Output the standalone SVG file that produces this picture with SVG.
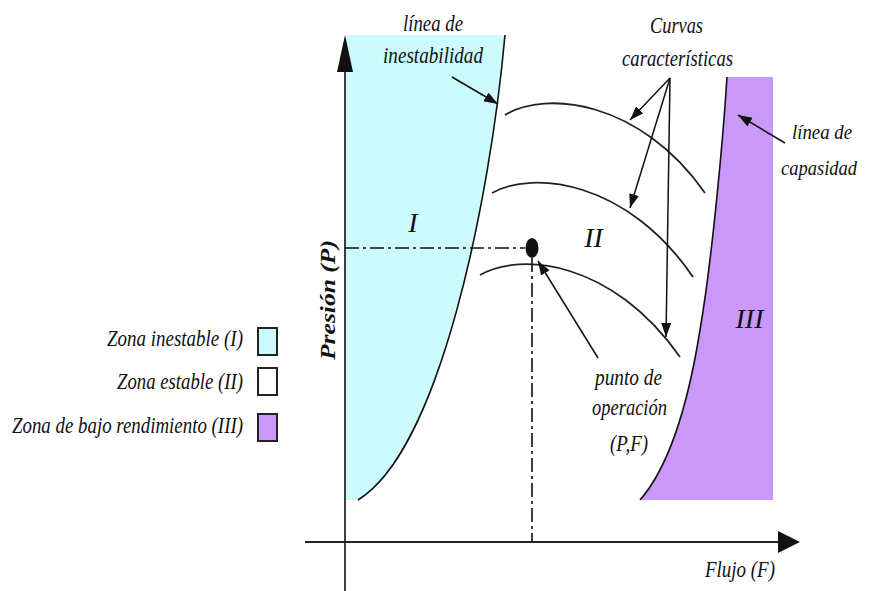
<svg xmlns="http://www.w3.org/2000/svg" width="869" height="591" viewBox="0 0 869 591">
<style>
text{font-family:"Liberation Serif","Times New Roman",serif;font-style:italic;fill:#111;}
.lbl{font-size:23px;text-anchor:middle;}
.leg{font-size:23px;text-anchor:end;}
.zone{font-size:28px;text-anchor:middle;}
.edge{fill:none;stroke:#111;stroke-width:1.6;}
.arc{fill:none;stroke:#222;stroke-width:1.8;}
.ptr{fill:none;stroke:#111;stroke-width:1.5;marker-end:url(#ah);}
.dd{fill:none;stroke:#111;stroke-width:1.6;stroke-dasharray:14 4 3 4;}
.box{stroke:#222;stroke-width:2;}
</style>
<defs>
<marker id="ah" markerUnits="userSpaceOnUse" markerWidth="16" markerHeight="12" refX="14" refY="5" orient="auto">
<path d="M0,0 L14,5 L0,10 z" fill="#111"/>
</marker>
</defs>
<rect width="869" height="591" fill="#fff"/>

<g id="zone-I">
<path d="M345,35 L505,35 C490,200 440,450 358,500 L345,500 z" fill="#cbfbfc"/>
<path class="edge" d="M505,35 C490,200 440,450 358,500"/>
<text class="zone" x="413" y="232">I</text>
</g>

<g id="zone-III">
<path d="M727,77 L773,77 L773,500 L640,500 C675,460 692,380 700,330 C712,260 723,140 727,77 z" fill="#c998f8"/>
<path class="edge" d="M727,77 C723,140 712,260 700,330 C692,380 675,460 640,500"/>
<text class="zone" x="749.5" y="328">III</text>
</g>

<g id="zone-II">
<text class="zone" x="593.5" y="247">II</text>
</g>

<g id="curves">
<path class="arc" d="M505,115 C545,90 640,100 705,193"/>
<path class="arc" d="M492,193 C532,170 627,180 693,277"/>
<path class="arc" d="M480,275 C520,252 612,260 680,357"/>
</g>

<g id="axes">
<line x1="345" y1="70" x2="345" y2="591" stroke="#111" stroke-width="1.6"/>
<path d="M345,35 L353,72 L337,72 z" fill="#111"/>
<line x1="305" y1="542" x2="780" y2="542" stroke="#222" stroke-width="2.2"/>
<path d="M800,542 L778,531 L778,553 z" fill="#111"/>
<text x="0" y="0" transform="translate(335,300) rotate(-90)" style="font-size:21px;font-weight:bold;text-anchor:middle" textLength="120" lengthAdjust="spacingAndGlyphs">Presión (P)</text>
<text class="lbl" x="740" y="577" textLength="70" lengthAdjust="spacingAndGlyphs">Flujo (F)</text>
</g>

<g id="operating-point">
<line class="dd" x1="345" y1="248" x2="525" y2="248"/>
<line class="dd" x1="532" y1="258" x2="532" y2="542"/>
<ellipse cx="532" cy="248" rx="6.5" ry="10" fill="#111"/>
</g>

<g id="labels">
<text class="lbl" x="433" y="31" textLength="60" lengthAdjust="spacingAndGlyphs">línea de</text>
<text class="lbl" x="433" y="63" textLength="100" lengthAdjust="spacingAndGlyphs">inestabilidad</text>
<text class="lbl" x="676.5" y="33" textLength="53" lengthAdjust="spacingAndGlyphs">Curvas</text>
<text class="lbl" x="677.5" y="66" textLength="111" lengthAdjust="spacingAndGlyphs">características</text>
<text class="lbl" x="822" y="139" style="font-size:21px" textLength="60" lengthAdjust="spacingAndGlyphs">línea de</text>
<text class="lbl" x="819" y="175" style="font-size:20px" textLength="76" lengthAdjust="spacingAndGlyphs">capasidad</text>
<text class="lbl" x="628.5" y="385" textLength="67" lengthAdjust="spacingAndGlyphs">punto de</text>
<text class="lbl" x="629.5" y="415" textLength="75" lengthAdjust="spacingAndGlyphs">operación</text>
<text class="lbl" x="629" y="451" textLength="38" lengthAdjust="spacingAndGlyphs">(P,F)</text>
</g>

<g id="connectors">
<line class="ptr" x1="452" y1="77" x2="498" y2="104"/>
<line class="ptr" x1="670" y1="78" x2="630" y2="120"/>
<line class="ptr" x1="670" y1="78" x2="630" y2="208"/>
<line class="ptr" x1="670" y1="78" x2="666" y2="337"/>
<line class="ptr" x1="785" y1="143" x2="738" y2="115"/>
<line class="ptr" x1="598" y1="358" x2="538" y2="261"/>
</g>

<g id="legend">
<text class="leg" x="243" y="346" textLength="136" lengthAdjust="spacingAndGlyphs">Zona inestable (I)</text>
<rect class="box" x="258" y="328" width="19" height="27" fill="#cbfbfc"/>
<text class="leg" x="243" y="389" textLength="126" lengthAdjust="spacingAndGlyphs">Zona estable (II)</text>
<rect class="box" x="258" y="368" width="19" height="27" fill="#fff"/>
<text class="leg" x="243" y="433" textLength="231" lengthAdjust="spacingAndGlyphs">Zona de bajo rendimiento (III)</text>
<rect class="box" x="258" y="414" width="19" height="27" fill="#c998f8"/>
</g>
</svg>
